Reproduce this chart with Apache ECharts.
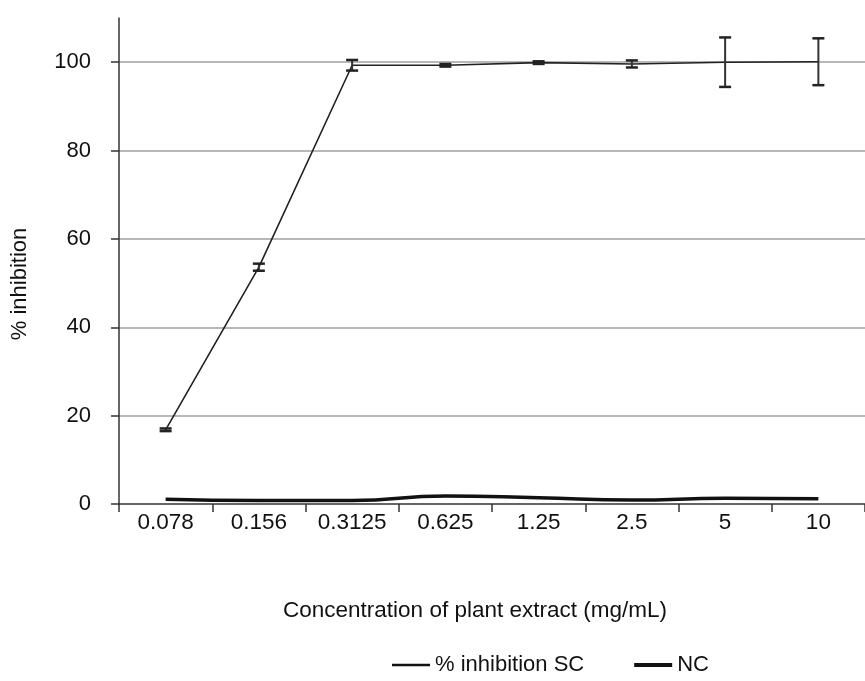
<!DOCTYPE html>
<html>
<head>
<meta charset="utf-8">
<script src="https://cdn.jsdelivr.net/npm/echarts@6/dist/echarts.min.js"></script>
<style>html,body{margin:0;padding:0;background:#fff}#c{width:865px;height:681px}</style>
</head>
<body>
<div id="c"></div>
<script>
var categories = ['0.078', '0.156', '0.3125', '0.625', '1.25', '2.5', '5', '10'];
var scValues = [16.8, 53.6, 99.3, 99.3, 99.9, 99.6, 100.0, 100.1];
var scError = [0.3, 0.8, 1.2, 0.3, 0.3, 0.8, 5.6, 5.3];
var ncValues = [1.1, 0.8, 0.8, 1.8, 1.4, 0.9, 1.3, 1.2];
var yTicks = [0, 20, 40, 60, 80, 100];

var errData = categories.map(function (c, i) {
  return [i, scValues[i] - scError[i], scValues[i] + scError[i]];
});

var FONT = 'Liberation Sans, Arial, sans-serif';
var chart = echarts.init(document.getElementById('c'));
chart.setOption({
  animation: false,
  textStyle: { fontFamily: FONT },
  grid: { left: 119, right: 0, top: 18, bottom: 177 },
  legend: {
    left: 387, top: 649,
    itemWidth: 38, itemHeight: 14, itemGap: 50, itemSymbolTextGap: 3,
    textStyle: { fontSize: 22, color: '#111', fontFamily: FONT },
    data: [
      { name: '% inhibition SC', icon: 'path://M0 0H40V2.4H0Z' },
      { name: 'NC', icon: 'path://M0 0H40V4H0Z' }
    ]
  },
  xAxis: {
    type: 'category',
    data: categories,
    boundaryGap: true,
    name: 'Concentration of plant extract (mg/mL)',
    nameLocation: 'middle',
    nameGap: 95,
    nameTextStyle: { fontSize: 22.5, color: '#111', padding: [0, 34, 0, 0] },
    axisLine: { lineStyle: { color: '#333', width: 1.5 } },
    axisTick: { show: true, alignWithLabel: false, length: 8, lineStyle: { color: '#333', width: 1.5 } },
    axisLabel: { fontSize: 22.5, color: '#111', margin: 7 },
    splitLine: { show: false }
  },
  yAxis: {
    type: 'value',
    min: 0, max: 110, interval: 20,
    name: '% inhibition',
    nameLocation: 'middle',
    nameGap: 88,
    nameRotate: 90,
    nameTextStyle: { fontSize: 22, color: '#111', padding: [0, 46, 0, 0] },
    axisLine: { show: true, lineStyle: { color: '#333', width: 1.5 } },
    axisTick: { show: true, length: 8, customValues: yTicks, lineStyle: { color: '#333', width: 1.5 } },
    axisLabel: { fontSize: 22, color: '#111', margin: 28, customValues: yTicks },
    splitLine: { show: true, showMinLine: false, lineStyle: { color: '#a0a0a0', width: 1.5 } }
  },
  series: [
    {
      name: 'NC',
      type: 'line',
      data: ncValues,
      smooth: 0.5,
      symbol: 'none',
      lineStyle: { color: '#111', width: 3.5 },
      itemStyle: { color: '#111' },
      z: 3
    },
    {
      name: '% inhibition SC',
      type: 'line',
      data: scValues,
      symbol: 'none',
      lineStyle: { color: '#222', width: 1.6 },
      itemStyle: { color: '#111' },
      z: 4
    },
    {
      name: 'err',
      type: 'custom',
      data: errData,
      z: 5,
      renderItem: function (params, api) {
        var x = api.value(0);
        var lo = api.coord([x, api.value(1)]);
        var hi = api.coord([x, api.value(2)]);
        var w = 6;
        var st = { stroke: '#333', lineWidth: 2 };
        var cap = { stroke: '#222', lineWidth: 2.5 };
        return {
          type: 'group',
          children: [
            { type: 'line', shape: { x1: lo[0], y1: lo[1], x2: hi[0], y2: hi[1] }, style: st },
            { type: 'line', shape: { x1: lo[0] - w, y1: lo[1], x2: lo[0] + w, y2: lo[1] }, style: cap },
            { type: 'line', shape: { x1: hi[0] - w, y1: hi[1], x2: hi[0] + w, y2: hi[1] }, style: cap }
          ]
        };
      }
    }
  ]
});
</script>
</body>
</html>
